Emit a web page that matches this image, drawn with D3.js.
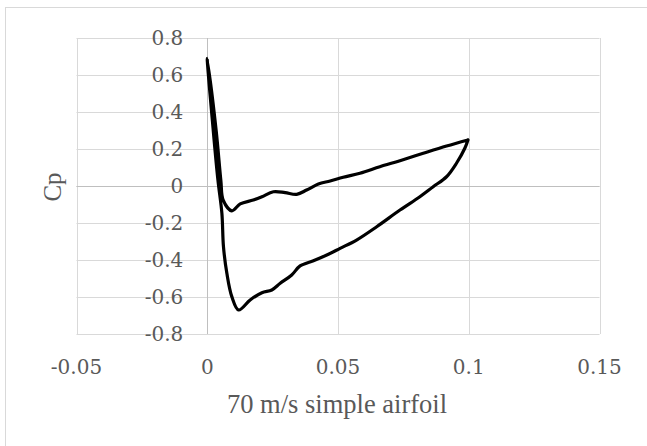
<!DOCTYPE html>
<html>
<head>
<meta charset="utf-8">
<script src="https://cdn.jsdelivr.net/npm/d3@7/dist/d3.min.js"></script>
<style>
html, body { margin: 0; padding: 0; background: #fff; }
svg { display: block; }
.tick-label { font-family: 'DejaVu Serif', serif; font-size: 20px; fill: #595959; }
.axis-title { font-family: 'Liberation Serif', 'Times New Roman', serif; fill: #595959; }
</style>
</head>
<body>
<svg id="chart" width="647" height="446"></svg>
<script>
// ---- data ----
const cpX = [0.0997, 0.0915, 0.0826, 0.0737, 0.066, 0.0584, 0.052, 0.047, 0.0425, 0.038,
  0.0342, 0.0298, 0.0253, 0.0209, 0.0176, 0.0126, 0.0094, 0.0061, 0.0052, 0.0034, 0.0,
  0.0023, 0.0041, 0.0056, 0.0062, 0.0075, 0.0094, 0.012, 0.0164, 0.0209, 0.0247, 0.0279,
  0.0323, 0.0355, 0.0406, 0.0457, 0.0508, 0.0571, 0.0648, 0.0737, 0.0813, 0.0864, 0.0915,
  0.0953, 0.0985, 0.0997];
const cpY = [0.249, 0.216, 0.177, 0.137, 0.104, 0.069, 0.047, 0.027, 0.011, -0.022,
  -0.045, -0.036, -0.031, -0.058, -0.076, -0.097, -0.134, -0.076, 0.03, 0.3, 0.69,
  0.3, 0.03, -0.148, -0.328, -0.472, -0.598, -0.67, -0.616, -0.577, -0.562, -0.526,
  -0.481, -0.432, -0.404, -0.373, -0.337, -0.292, -0.22, -0.13, -0.058, -0.004, 0.05,
  0.123, 0.204, 0.249];
const xTicks = [-0.05, 0, 0.05, 0.1, 0.15];
const xTickLabels = ["-0.05", "0", "0.05", "0.1", "0.15"];
const yTicks = [-0.8, -0.6, -0.4, -0.2, 0, 0.2, 0.4, 0.6, 0.8];
const yTickLabels = ["-0.8", "-0.6", "-0.4", "-0.2", "0", "0.2", "0.4", "0.6", "0.8"];
const xTitle = "70 m/s simple airfoil";
const yTitle = "Cp";

// ---- layout ----
const svg = d3.select("#chart");
const plot = { left: 76.5, right: 599.5, top: 38, bottom: 334 };
const x = d3.scaleLinear().domain([-0.05, 0.15]).range([plot.left, plot.right]);
const y = d3.scaleLinear().domain([-0.8, 0.8]).range([plot.bottom, plot.top]);

// chart border
svg.append("rect").attr("x", 5.5).attr("y", 7.5).attr("width", 700).attr("height", 500)
  .attr("fill", "#fff").attr("stroke", "#d9d9d9").attr("stroke-width", 1);

// gridlines
const grid = svg.append("g");
grid.selectAll("line.h").data(yTicks).enter().append("line")
  .attr("x1", plot.left).attr("x2", plot.right)
  .attr("y1", d => Math.round(y(d)) + 0.5).attr("y2", d => Math.round(y(d)) + 0.5)
  .attr("stroke", "#d9d9d9").attr("stroke-width", 1);
grid.selectAll("line.v").data(xTicks).enter().append("line")
  .attr("y1", plot.top).attr("y2", plot.bottom)
  .attr("x1", d => Math.round(x(d)) + 0.5).attr("x2", d => Math.round(x(d)) + 0.5)
  .attr("stroke", "#d9d9d9").attr("stroke-width", 1);

// axis lines crossing at zero
svg.append("line").attr("x1", plot.left).attr("x2", plot.right)
  .attr("y1", Math.round(y(0)) + 0.5).attr("y2", Math.round(y(0)) + 0.5)
  .attr("stroke", "#bfbfbf").attr("stroke-width", 1);
svg.append("line").attr("y1", plot.top).attr("y2", plot.bottom)
  .attr("x1", Math.round(x(0)) + 0.5).attr("x2", Math.round(x(0)) + 0.5)
  .attr("stroke", "#bfbfbf").attr("stroke-width", 1);

// y tick labels (next to y axis at x=0)
svg.append("g").selectAll("text").data(yTicks).enter().append("text")
  .attr("class", "tick-label")
  .attr("x", x(0) - 24).attr("y", d => y(d) + 7)
  .attr("text-anchor", "end")
  .text((d, i) => yTickLabels[i]);

// x tick labels (low position)
svg.append("g").selectAll("text").data(xTicks).enter().append("text")
  .attr("class", "tick-label")
  .attr("x", d => x(d)).attr("y", 374)
  .attr("text-anchor", "middle")
  .text((d, i) => xTickLabels[i]);

// series
const pts = cpX.map((v, i) => [v, cpY[i]]);
svg.append("path").datum(pts)
  .attr("d", d3.line().x(d => x(d[0])).y(d => y(d[1])).curve(d3.curveCatmullRom.alpha(0.5)))
  .attr("fill", "none").attr("stroke", "#000").attr("stroke-width", 3.2)
  .attr("stroke-linejoin", "round").attr("stroke-linecap", "round");

// axis titles
svg.append("text").attr("class", "axis-title")
  .attr("x", 337).attr("y", 413)
  .attr("text-anchor", "middle").attr("font-size", 26.5)
  .text(xTitle);
svg.append("text").attr("class", "axis-title")
  .attr("transform", "translate(61,187) rotate(-90)")
  .attr("text-anchor", "middle").attr("font-size", 25)
  .text(yTitle);
</script>
</body>
</html>
